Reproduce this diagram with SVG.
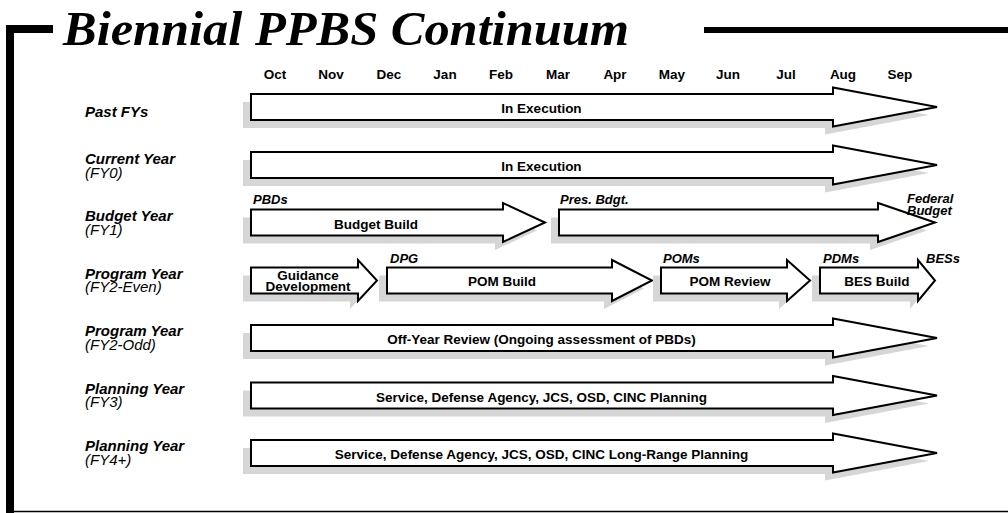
<svg xmlns="http://www.w3.org/2000/svg" width="1008" height="513" viewBox="0 0 1008 513">
<style>
.bg{fill:#ffffff}
.frame{fill:none;stroke:#000;stroke-linejoin:miter;stroke-linecap:butt}
.title{font-family:"Liberation Serif","Times New Roman",serif;font-weight:bold;font-style:italic;font-size:48px;fill:#000}
.month{font-family:"Liberation Sans",Arial,sans-serif;font-weight:bold;font-size:13.5px;fill:#000;text-anchor:middle}
.lbl{font-family:"Liberation Sans",Arial,sans-serif;font-weight:bold;font-style:italic;font-size:15px;fill:#000}
.sub{font-family:"Liberation Sans",Arial,sans-serif;font-style:italic;font-size:15px;fill:#000}
.mile{font-family:"Liberation Sans",Arial,sans-serif;font-weight:bold;font-style:italic;font-size:13px;fill:#000}
.in{font-family:"Liberation Sans",Arial,sans-serif;font-weight:bold;font-size:13.5px;fill:#000;text-anchor:middle}
.shadow{fill:#d6d6d6;stroke:none}
.arrow{fill:#fff;stroke:#000;stroke-width:2;stroke-linejoin:miter}
</style>
<rect class="bg" x="0" y="0" width="1008" height="513"/>

<g id="frame">
<path class="frame" stroke-width="8" d="M53 29 H10 V513"/>
<path class="frame" stroke-width="6" d="M704 30 H1008"/>
<path class="frame" stroke-width="1.5" d="M10 511.5 H1008"/>
<text class="title" x="63" y="45" textLength="566" lengthAdjust="spacingAndGlyphs">Biennial PPBS Continuum</text>
</g>

<g id="months">
<text class="month" x="275" y="79">Oct</text>
<text class="month" x="331" y="79">Nov</text>
<text class="month" x="389" y="79">Dec</text>
<text class="month" x="445" y="79">Jan</text>
<text class="month" x="501" y="79">Feb</text>
<text class="month" x="558" y="79">Mar</text>
<text class="month" x="615" y="79">Apr</text>
<text class="month" x="672" y="79">May</text>
<text class="month" x="728" y="79">Jun</text>
<text class="month" x="786" y="79">Jul</text>
<text class="month" x="843" y="79">Aug</text>
<text class="month" x="900" y="79">Sep</text>
</g>

<g id="row-labels">
<text class="lbl" x="85" y="116.5">Past FYs</text>
<text class="lbl" x="85" y="163.5">Current Year</text>
<text class="sub" x="85" y="177.5">(FY0)</text>
<text class="lbl" x="85" y="221">Budget Year</text>
<text class="sub" x="85" y="235">(FY1)</text>
<text class="lbl" x="85" y="278.5">Program Year</text>
<text class="sub" x="85" y="292">(FY2-Even)</text>
<text class="lbl" x="85" y="336">Program Year</text>
<text class="sub" x="85" y="349.5">(FY2-Odd)</text>
<text class="lbl" x="85" y="393.5">Planning Year</text>
<text class="sub" x="85" y="407">(FY3)</text>
<text class="lbl" x="85" y="451">Planning Year</text>
<text class="sub" x="85" y="464.5">(FY4+)</text>
</g>

<g id="past-execution">
<path class="shadow" transform="translate(-8,8)" d="M251 94 H833 V87.5 L937 107 L833 126.5 V120 H251 Z"/>
<path class="arrow" d="M251 94 H833 V87.5 L937 107 L833 126.5 V120 H251 Z"/>
<text class="in" x="541.5" y="113">In Execution</text>
</g>

<g id="current-execution">
<path class="shadow" transform="translate(-8,8)" d="M251 152 H833 V145.5 L937 165 L833 184.5 V178 H251 Z"/>
<path class="arrow" d="M251 152 H833 V145.5 L937 165 L833 184.5 V178 H251 Z"/>
<text class="in" x="541.5" y="171">In Execution</text>
</g>

<g id="budget-build">
<path class="shadow" transform="translate(-8,8)" d="M251 209.5 H503 V203 L545 222.5 L503 242 V235.5 H251 Z"/>
<path class="arrow" d="M251 209.5 H503 V203 L545 222.5 L503 242 V235.5 H251 Z"/>
<text class="in" x="376" y="228.5">Budget Build</text>
<text class="mile" x="253" y="204">PBDs</text>
</g>

<g id="pres-budget">
<path class="shadow" transform="translate(-8,8)" d="M559 209.5 H878 V203 L935 222.5 L878 242 V235.5 H559 Z"/>
<path class="arrow" d="M559 209.5 H878 V203 L935 222.5 L878 242 V235.5 H559 Z"/>
<text class="mile" x="560" y="204">Pres. Bdgt.</text>
<text class="mile" x="907" y="203">Federal</text>
<text class="mile" x="907" y="214.5">Budget</text>
</g>

<g id="guidance-development">
<path class="shadow" transform="translate(-8,8)" d="M251 267.5 H358 V260 L377 280.5 L358 301 V293.5 H251 Z"/>
<path class="arrow" d="M251 267.5 H358 V260 L377 280.5 L358 301 V293.5 H251 Z"/>
<text class="in" x="308" y="280">Guidance</text>
<text class="in" x="308" y="291">Development</text>
</g>

<g id="pom-build">
<path class="shadow" transform="translate(-8,8)" d="M387 267.5 H612 V260 L652 280.5 L612 301 V293.5 H387 Z"/>
<path class="arrow" d="M387 267.5 H612 V260 L652 280.5 L612 301 V293.5 H387 Z"/>
<text class="in" x="502" y="286">POM Build</text>
<text class="mile" x="390" y="262.5">DPG</text>
</g>

<g id="pom-review">
<path class="shadow" transform="translate(-8,8)" d="M661 267.5 H787 V260 L810 280.5 L787 301 V293.5 H661 Z"/>
<path class="arrow" d="M661 267.5 H787 V260 L810 280.5 L787 301 V293.5 H661 Z"/>
<text class="in" x="730" y="286">POM Review</text>
<text class="mile" x="663" y="262.5">POMs</text>
</g>

<g id="bes-build">
<path class="shadow" transform="translate(-8,8)" d="M820 267.5 H918 V260 L935 280.5 L918 301 V293.5 H820 Z"/>
<path class="arrow" d="M820 267.5 H918 V260 L935 280.5 L918 301 V293.5 H820 Z"/>
<text class="in" x="877" y="286">BES Build</text>
<text class="mile" x="823" y="262.5">PDMs</text>
<text class="mile" x="926" y="262.5">BESs</text>
</g>

<g id="off-year-review">
<path class="shadow" transform="translate(-8,8)" d="M251 325 H833 V318.5 L937 338 L833 357.5 V351 H251 Z"/>
<path class="arrow" d="M251 325 H833 V318.5 L937 338 L833 357.5 V351 H251 Z"/>
<text class="in" x="541.5" y="344">Off-Year Review (Ongoing assessment of PBDs)</text>
</g>

<g id="fy3-planning">
<path class="shadow" transform="translate(-8,8)" d="M251 382.5 H833 V376 L937 395.5 L833 415 V408.5 H251 Z"/>
<path class="arrow" d="M251 382.5 H833 V376 L937 395.5 L833 415 V408.5 H251 Z"/>
<text class="in" x="541.5" y="401.5">Service, Defense Agency, JCS, OSD, CINC Planning</text>
</g>

<g id="fy4-planning">
<path class="shadow" transform="translate(-8,8)" d="M251 440 H833 V433.5 L937 453 L833 472.5 V466 H251 Z"/>
<path class="arrow" d="M251 440 H833 V433.5 L937 453 L833 472.5 V466 H251 Z"/>
<text class="in" x="541.5" y="459">Service, Defense Agency, JCS, OSD, CINC Long-Range Planning</text>
</g>

<g id="connectors"/>
</svg>
